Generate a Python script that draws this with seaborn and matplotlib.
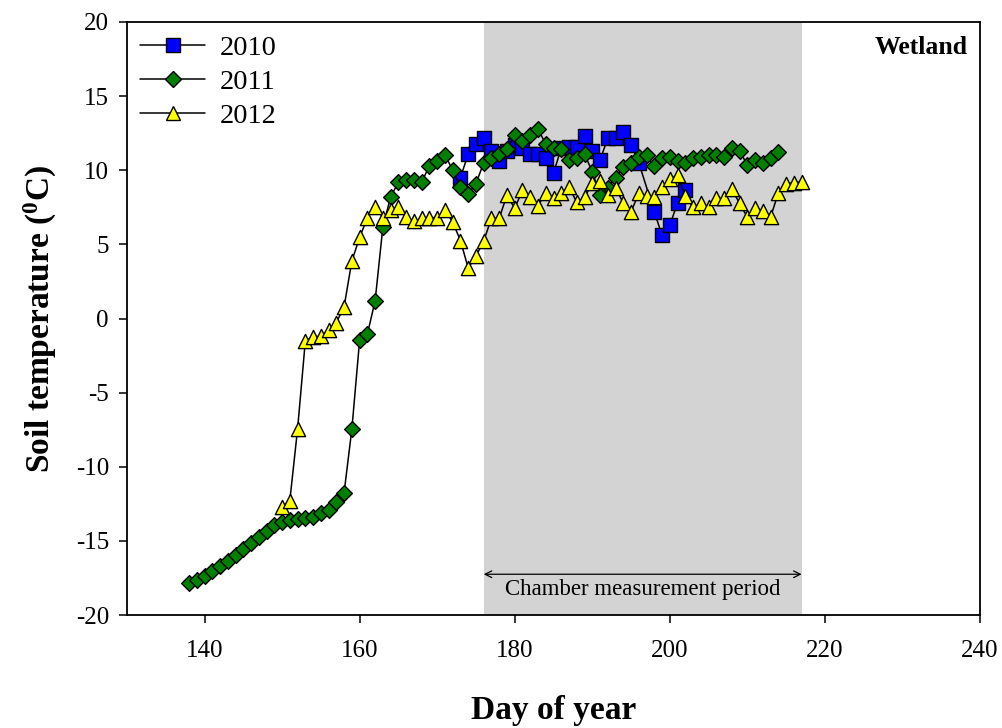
import numpy as np
import pandas as pd
import seaborn as sns
import matplotlib.pyplot as plt
from matplotlib.lines import Line2D

# Soil temperature, wetland site, daily values
days_2010 = [173, 174, 175, 176, 177, 178, 179, 180, 181, 182, 183, 184, 185,
             186, 187, 188, 189, 190, 191, 192, 193, 194, 195, 196, 198, 199,
             200, 201, 202]
temp_2010 = [9.5, 11.1, 11.8, 12.2, 11.3, 10.6, 11.3, 11.7, 11.5, 11.1, 11.1,
             10.8, 9.8, 11.5, 11.6, 11.6, 12.3, 11.3, 10.7, 12.15, 12.15, 12.6,
             11.7, 10.5, 7.2, 5.6, 6.3, 7.8, 8.7]

days_2011 = list(range(138, 215))
temp_2011 = [-17.86, -17.63, -17.36, -17.05, -16.69, -16.33, -15.95, -15.54,
             -15.16, -14.76, -14.31, -13.92, -13.70, -13.59, -13.54, -13.47,
             -13.36, -13.14, -12.92, -12.35, -11.74, -7.45, -1.45, -1.05,
             1.2, 6.2, 8.2, 9.2, 9.35, 9.35, 9.2, 10.3, 10.6, 11.05, 10.0,
             8.9, 8.4, 9.1, 10.5, 10.8, 11.1, 11.4, 12.4, 12.0, 12.4, 12.8,
             11.75, 11.5, 11.4, 10.7, 10.8, 11.1, 9.9, 8.3, 8.8, 9.5, 10.2,
             10.5, 10.9, 11.0, 10.3, 10.8, 10.9, 10.6, 10.5, 10.8, 10.9, 11.0,
             11.0, 10.9, 11.5, 11.3, 10.35, 10.7, 10.5, 10.8, 11.2]

days_2012 = list(range(150, 218))
temp_2012 = [-12.69, -12.28, -7.45, -1.5, -1.27, -1.18, -0.78, -0.28, 0.8,
             3.88, 5.47, 6.8, 7.54, 6.8, 7.3, 7.5, 6.86, 6.55, 6.76, 6.8, 6.8,
             7.32, 6.5, 5.26, 3.4, 4.2, 5.23, 6.76, 6.76, 8.33, 7.43, 8.66,
             8.21, 7.59, 8.48, 8.1, 8.48, 8.89, 7.83, 8.17, 9.12, 9.29, 8.33,
             8.78, 7.8, 7.2, 8.44, 8.23, 8.21, 8.89, 9.39, 9.68, 8.26, 7.5,
             7.77, 7.5, 8.1, 8.1, 8.71, 7.77, 6.82, 7.43, 7.27, 6.86, 8.48,
             9.1, 9.16, 9.22]

period_start, period_end = 176, 217

series = [
    ('2010', days_2010, temp_2010, 's', '#0000ff', 95),
    ('2011', days_2011, temp_2011, 'D', '#007f00', 64),
    ('2012', days_2012, temp_2012, '^', '#ffff00', 105),
]

sns.set_theme(style='ticks')
plt.rcParams['font.family'] = ['Liberation Serif', 'DejaVu Serif']
plt.rcParams['mathtext.fontset'] = 'custom'
plt.rcParams['mathtext.rm'] = 'Liberation Serif'
plt.rcParams['mathtext.bf'] = 'Liberation Serif:bold'
plt.rcParams['axes.unicode_minus'] = False
for key in ['text.color', 'axes.labelcolor', 'xtick.color', 'ytick.color',
            'axes.edgecolor']:
    plt.rcParams[key] = 'black'

fig = plt.figure(figsize=(10.03, 7.28), dpi=100)
ax = fig.add_axes([0.1266, 0.1552, 0.8505, 0.8146])

# chamber measurement period shading
ax.axvspan(period_start, period_end, color='#d3d3d3', lw=0, zorder=0)

handles = []
for i, (name, d, t, mk, col, sz) in enumerate(series):
    df = pd.DataFrame({'day': d, 'temp': t})
    sns.lineplot(data=df, x='day', y='temp', color='black', lw=1.1,
                 estimator=None, sort=False, ax=ax, zorder=2 + 2 * i)
    sns.scatterplot(data=df, x='day', y='temp', marker=mk, color=col,
                    edgecolor='black', linewidth=1.0, s=sz, ax=ax,
                    zorder=3 + 2 * i)
    handles.append(Line2D([], [], color='black', lw=1.1, marker=mk,
                          markerfacecolor=col, markeredgecolor='black',
                          markersize=np.sqrt(sz), label=name))

ax.annotate('', xy=(period_start, -17.25), xytext=(period_end, -17.25),
            arrowprops=dict(arrowstyle='<->', color='black', lw=0.9,
                            shrinkA=0, shrinkB=0))
ax.text((period_start + period_end) / 2, -17.6, 'Chamber measurement period',
        ha='center', va='top', fontsize=16.5)

ax.text(0.986, 0.946, 'Wetland', transform=ax.transAxes, ha='right',
        va='baseline', fontsize=18.5, fontweight='bold')

ax.set_xlim(130, 240)
ax.set_ylim(-20, 20)
ax.set_xticks(range(140, 241, 20))
ax.set_yticks(range(-20, 21, 5))
ax.tick_params(axis='both', direction='out', length=6, width=1.1,
               labelsize=18)
ax.tick_params(axis='x', pad=12)
ax.tick_params(axis='y', pad=7)
for sp in ax.spines.values():
    sp.set_linewidth(1.3)

ax.set_xlabel('Day of year', fontsize=24, fontweight='bold', labelpad=24)
ax.set_ylabel(r'Soil temperature ($\mathbf{^{0}}$C)', fontsize=24,
              fontweight='bold', labelpad=12)

ax.legend(handles=handles, loc='upper left', bbox_to_anchor=(0.0, 1.0),
          frameon=False, fontsize=20.5, handlelength=2.3, handletextpad=0.5,
          labelspacing=0.28, borderaxespad=0.25, borderpad=0.2)

fig.savefig('out.png', dpi=100)
